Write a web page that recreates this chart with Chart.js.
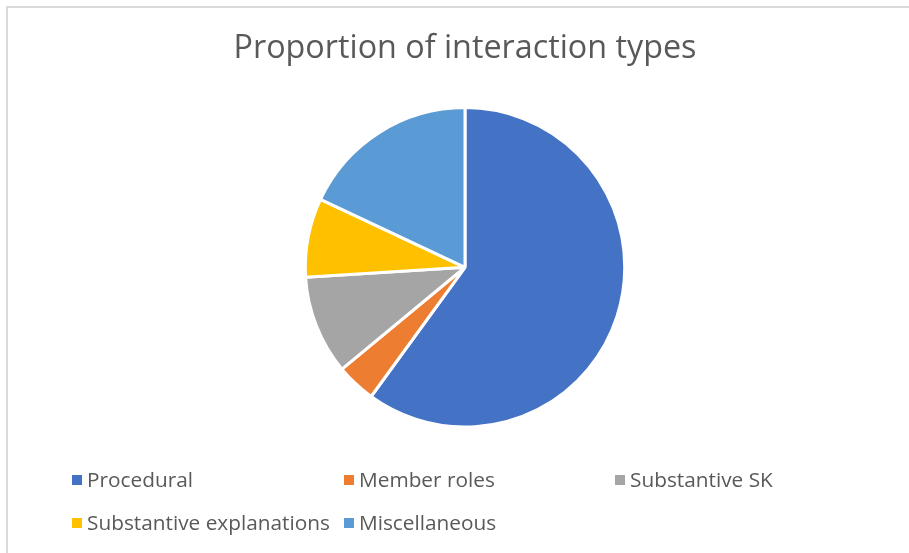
<!DOCTYPE html>
<html>
<head>
<meta charset="utf-8">
<script src="https://cdn.jsdelivr.net/npm/chart.js@4.4.0/dist/chart.umd.min.js"></script>
<style>
  html, body { margin: 0; padding: 0; background: #fff; }
  #wrap { position: relative; width: 909px; height: 553px; overflow: hidden; }
  #frame { position: absolute; left: 6px; top: 6px; width: 920px; height: 560px;
           border-top: 2px solid #d9d9d9; border-left: 2px solid #d9d9d9; }
  #pie { position: absolute; left: 0; top: 0; }
  .leg { position: absolute; font-family: "Open Sans", sans-serif; font-size: 20.8px;
         color: #595959; white-space: nowrap; line-height: 26px; }
  .leg span.box { display: inline-block; width: 10px; height: 10px; margin-right: 5px;
                  vertical-align: 2px; }
</style>
</head>
<body>
<div id="wrap">
  <div id="frame"></div>
  <canvas id="pie" width="909" height="553"></canvas>
  <div id="legend"></div>
</div>
<script>
// datos (porcentaje aproximado)
const categorias = ['Procedural', 'Member roles', 'Substantive SK', 'Substantive explanations', 'Miscellaneous'];
const valores    = [60, 4, 10, 8, 18];
const colores    = ['#4472C4', '#ED7D31', '#A5A5A5', '#FFC000', '#5B9BD5'];

const chart = new Chart(document.getElementById('pie'), {
  type: 'pie',
  data: {
    labels: categorias,
    datasets: [{
      data: valores,
      backgroundColor: colores,
      borderColor: '#ffffff',
      borderWidth: 3
    }]
  },
  options: {
    responsive: false,
    animation: false,
    layout: { padding: { left: 21, right: 0, top: 0, bottom: 124.5 } },
    plugins: {
      legend: { display: false },
      tooltip: { enabled: false },
      title: {
        display: true,
        text: 'Proportion of interaction types',
        color: '#595959',
        font: { family: '"Open Sans", sans-serif', size: 32.3, weight: 'normal' },
        padding: { top: 29.5, bottom: 37.8 }
      }
    }
  }
});

// leyenda en columnas, como en la figura
const legCols = [72, 344, 615];
const legRows = [466, 509];
const legEl = document.getElementById('legend');
categorias.forEach((c, i) => {
  const d = document.createElement('div');
  d.className = 'leg';
  d.style.left = legCols[i % 3] + 'px';
  d.style.top  = legRows[Math.floor(i / 3)] + 'px';
  d.innerHTML = `<span class="box" style="background:${colores[i]}"></span>${c}`;
  legEl.appendChild(d);
});
</script>
</body>
</html>
